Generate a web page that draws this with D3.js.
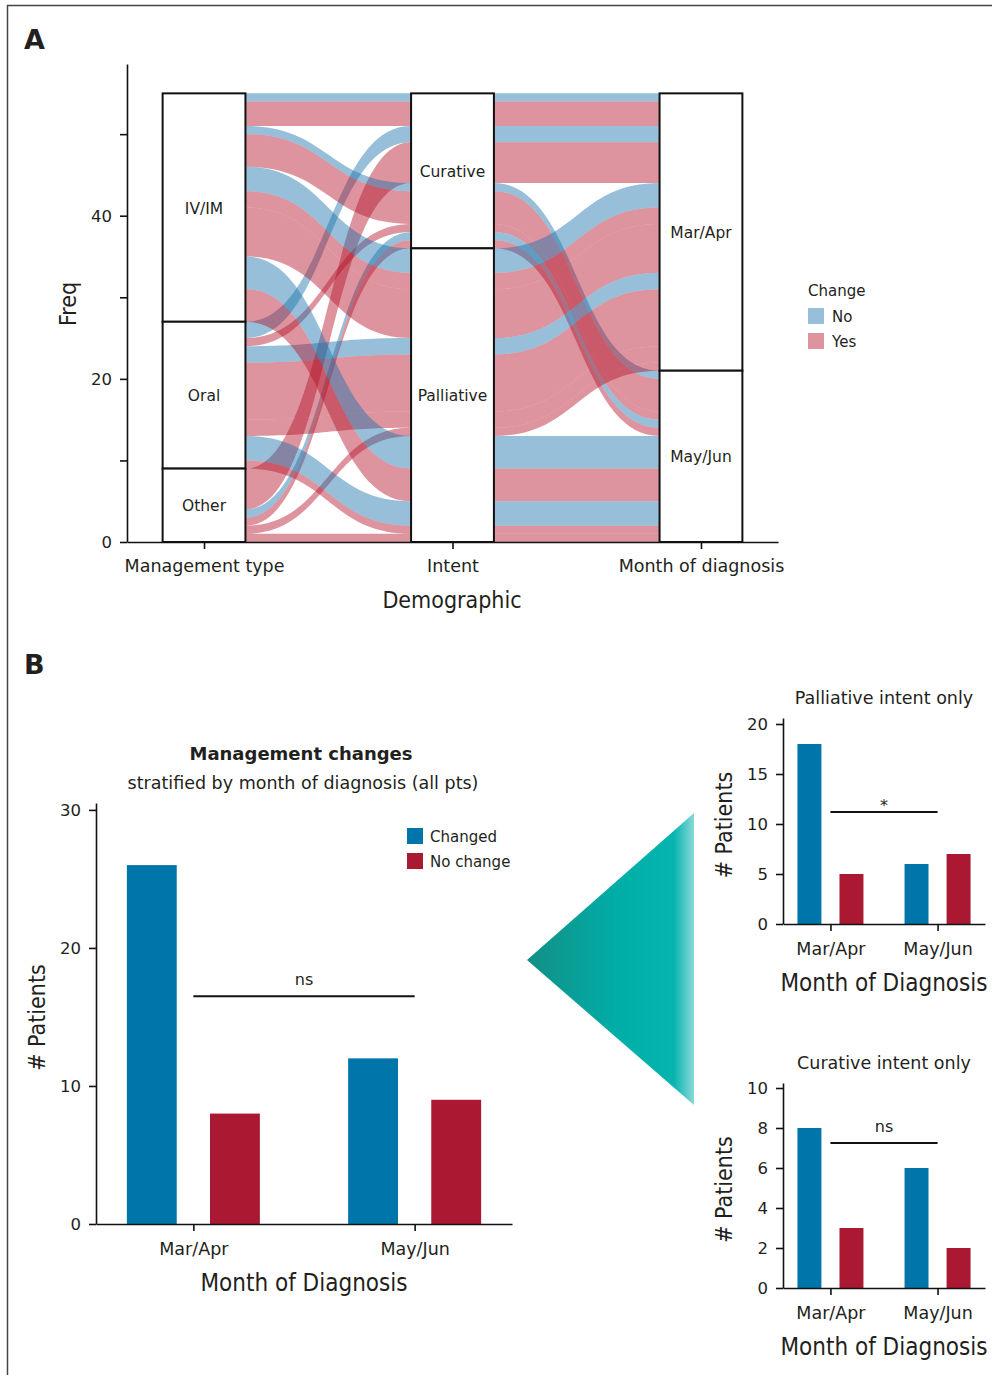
<!DOCTYPE html>
<html>
<head>
<meta charset="utf-8">
<script src="https://cdn.jsdelivr.net/npm/d3@7"></script>
<style>
  body { margin: 0; background: #fff; }
  svg text { font-family: "DejaVu Sans", sans-serif; fill: #231f20; }
  svg .cond { font-family: "DejaVu Sans Condensed", "DejaVu Sans", sans-serif; font-stretch: condensed; }
</style>
</head>
<body>
<svg id="fig" width="992" height="1375"></svg>
<script>
// ---------- panel A: alluvial data (one row per alluvium) ----------
const axisNames = ["Management type", "Intent", "Month of diagnosis"];
const mgmtLevels = ["IV/IM", "Oral", "Other"];
const intentLevels = ["Curative", "Palliative"];
const monthLevels = ["Mar/Apr", "May/Jun"];
const changeLevels = ["No", "Yes"];

const flowMgmt   = ["IV/IM","IV/IM","Oral","Other","IV/IM","IV/IM","Oral","Other","Other","IV/IM","IV/IM","IV/IM","Oral","Oral","Oral","Other","IV/IM","IV/IM","Oral","Oral","Other"];
const flowIntent = ["Curative","Curative","Curative","Curative","Curative","Curative","Curative","Curative","Curative","Palliative","Palliative","Palliative","Palliative","Palliative","Palliative","Palliative","Palliative","Palliative","Palliative","Palliative","Palliative"];
const flowMonth  = ["Mar/Apr","Mar/Apr","Mar/Apr","Mar/Apr","May/Jun","May/Jun","May/Jun","May/Jun","May/Jun","Mar/Apr","Mar/Apr","Mar/Apr","Mar/Apr","Mar/Apr","Mar/Apr","Mar/Apr","May/Jun","May/Jun","May/Jun","May/Jun","May/Jun"];
const flowChange = ["No","Yes","No","Yes","No","Yes","Yes","No","Yes","No","Yes","Yes","No","Yes","Yes","Yes","No","Yes","No","Yes","Yes"];
const flowFreq   = [1,3,2,5,1,4,1,1,1,3,2,6,2,7,2,1,4,4,3,1,1];

// ---------- panel B: bar chart data ----------
const monthCats = ["Mar/Apr", "May/Jun"];
const barGroups = ["Changed", "No change"];
const allChanged = [26, 12];
const allNoChange = [8, 9];
const palChanged = [18, 6];
const palNoChange = [5, 7];
const curChanged = [8, 6];
const curNoChange = [3, 2];
const sigLabels = ["ns", "*", "ns"];
const sigHeights = [16.5, 11.2, 7.25];

const blueA = "#1a72ab", redA = "#b41229";
const blueB = "#0075a9", redB = "#ab1831";
const ink = "#231f20";

const svg = d3.select("#fig");

// figure frame
svg.append("path").attr("d", "M7.5,1375V5.5H992").attr("fill", "none").attr("stroke", "#444").attr("stroke-width", 1.5);

svg.append("text").attr("x", 24).attr("y", 49).attr("font-size", 27).attr("font-weight", "bold").text("A");
svg.append("text").attr("x", 24).attr("y", 674).attr("font-size", 27).attr("font-weight", "bold").text("B");

// ================= PANEL A =================
const xA = d3.scalePoint().domain(axisNames).range([127, 778]).padding(0.31);
const yA = d3.scaleLinear().domain([0, 58.6]).range([542, 64]);
const half = xA.step() / 6;

// lode positions at each axis
const levelSets = [mgmtLevels, intentLevels, monthLevels];
const rows = flowFreq.map((n, i) => ({
  i, n, change: flowChange[i],
  keys: [mgmtLevels.indexOf(flowMgmt[i]), intentLevels.indexOf(flowIntent[i]), monthLevels.indexOf(flowMonth[i])],
  lode: []
}));
const total = d3.sum(flowFreq);
const sortOrder = [[0, 1, 2], [1, 2, 0], [2, 1, 0]];
sortOrder.forEach((ord, a) => {
  const sorted = rows.slice().sort((p, q) => {
    for (const k of ord) if (p.keys[k] !== q.keys[k]) return p.keys[k] - q.keys[k];
    if (p.change !== q.change) return changeLevels.indexOf(p.change) - changeLevels.indexOf(q.change);
    return p.i - q.i;
  });
  let top = total;
  sorted.forEach(r => { r.lode[a] = [top, top - r.n]; top -= r.n; });
});

function flowPath(r) {
  const xs = axisNames.map(a => xA(a));
  const p = d3.path();
  p.moveTo(xs[0] - half, yA(r.lode[0][0]));
  p.lineTo(xs[0] + half, yA(r.lode[0][0]));
  for (let a = 1; a < 3; a++) {
    const x0 = xs[a - 1] + half, x1 = xs[a] - half, xm = (x0 + x1) / 2;
    p.bezierCurveTo(xm, yA(r.lode[a - 1][0]), xm, yA(r.lode[a][0]), x1, yA(r.lode[a][0]));
    p.lineTo(xs[a] + half, yA(r.lode[a][0]));
  }
  p.lineTo(xs[2] + half, yA(r.lode[2][1]));
  p.lineTo(xs[2] - half, yA(r.lode[2][1]));
  for (let a = 1; a >= 0; a--) {
    const x0 = xs[a] + half, x1 = xs[a + 1] - half, xm = (x0 + x1) / 2;
    p.bezierCurveTo(xm, yA(r.lode[a + 1][1]), xm, yA(r.lode[a][1]), x0, yA(r.lode[a][1]));
    p.lineTo(xs[a] - half, yA(r.lode[a][1]));
  }
  p.closePath();
  return p.toString();
}

const colorA = d3.scaleOrdinal().domain(changeLevels).range([blueA, redA]);

svg.append("g").selectAll("path").data(rows).join("path")
  .attr("d", flowPath)
  .attr("fill", d => colorA(d.change))
  .attr("fill-opacity", 0.45);

// strata
const strata = [];
axisNames.forEach((ax, a) => {
  let top = total;
  levelSets[a].forEach((lv, k) => {
    const n = d3.sum(rows.filter(r => r.keys[a] === k), r => r.n);
    strata.push({ax, lv, top, bot: top - n});
    top -= n;
  });
});
const sg = svg.append("g");
sg.selectAll("rect").data(strata).join("rect")
  .attr("x", d => xA(d.ax) - half)
  .attr("y", d => yA(d.top))
  .attr("width", half * 2)
  .attr("height", d => yA(d.bot) - yA(d.top))
  .attr("fill", "#fff").attr("stroke", "#111").attr("stroke-width", 2);
sg.selectAll("text").data(strata).join("text")
  .attr("x", d => xA(d.ax))
  .attr("y", d => (yA(d.top) + yA(d.bot)) / 2 + 6)
  .attr("text-anchor", "middle").attr("font-size", 15.5)
  .text(d => d.lv);

// axes
const axA = svg.append("g").attr("transform", "translate(127,0)")
  .call(d3.axisLeft(yA).tickValues([0, 10, 20, 30, 40, 50]).tickSize(7).tickSizeOuter(0).tickPadding(8)
    .tickFormat(d => d % 20 === 0 ? d : ""));
const axAx = svg.append("g").attr("transform", "translate(0,542)")
  .call(d3.axisBottom(xA).tickSize(7).tickSizeOuter(0).tickPadding(11));
[axA, axAx].forEach(g => {
  g.selectAll("path, line").attr("stroke", "#111").attr("stroke-width", 1.6);
  g.selectAll("text").attr("font-size", 16.5).attr("fill", ink).attr("font-family", "DejaVu Sans");
});
axAx.selectAll("text").attr("font-size", 17.5);

svg.append("text").attr("class", "cond").attr("font-size", 23)
  .attr("transform", "translate(76,304) rotate(-90)").attr("text-anchor", "middle").text("Freq");
svg.append("text").attr("class", "cond").attr("font-size", 23)
  .attr("x", 452).attr("y", 608).attr("text-anchor", "middle").text("Demographic");

// legend A
const lgA = svg.append("g").attr("transform", "translate(808,0)");
lgA.append("text").attr("x", 0).attr("y", 296).attr("font-size", 15).text("Change");
changeLevels.forEach((c, i) => {
  lgA.append("rect").attr("x", 0).attr("y", 308 + i * 25).attr("width", 16).attr("height", 16)
    .attr("fill", colorA(c)).attr("fill-opacity", 0.45);
  lgA.append("text").attr("x", 24).attr("y", 322 + i * 25).attr("font-size", 15).text(c);
});

// ================= PANEL B =================
const colorB = d3.scaleOrdinal().domain(barGroups).range([blueB, redB]);

function barChart(cfg) {
  const g = svg.append("g");
  const x = d3.scalePoint().domain(monthCats).range([cfg.x0, cfg.x1]).padding(cfg.pad);
  const sub = d3.scaleBand().domain(barGroups).range([-cfg.half, cfg.half]).paddingInner(cfg.inner);
  const y = d3.scaleLinear().domain([0, cfg.ymax]).range([cfg.y0, cfg.y1]);
  const vals = [cfg.changed, cfg.noChange];

  monthCats.forEach((m, i) => {
    barGroups.forEach((b, j) => {
      g.append("rect")
        .attr("x", x(m) + sub(b)).attr("width", sub.bandwidth())
        .attr("y", y(vals[j][i])).attr("height", y(0) - y(vals[j][i]))
        .attr("fill", colorB(b));
    });
  });

  const ay = g.append("g").attr("transform", `translate(${cfg.x0},0)`)
    .call(d3.axisLeft(y).tickValues(cfg.ticks).tickSize(7).tickSizeOuter(0).tickPadding(8));
  const ax = g.append("g").attr("transform", `translate(0,${cfg.y0})`)
    .call(d3.axisBottom(x).tickSize(7).tickSizeOuter(0).tickPadding(12));
  [ay, ax].forEach(a => {
    a.selectAll("path, line").attr("stroke", "#111").attr("stroke-width", 1.6);
    a.selectAll("text").attr("font-size", 16.5).attr("fill", ink).attr("font-family", "DejaVu Sans");
  });
  ax.selectAll("text").attr("font-size", 17.5);

  // significance bar
  const isStar = cfg.sigLabel === "*";
  g.append("line").attr("x1", x(monthCats[0])).attr("x2", x(monthCats[1]))
    .attr("y1", y(cfg.sig)).attr("y2", y(cfg.sig)).attr("stroke", "#111").attr("stroke-width", 2);
  g.append("text").attr("x", (x(monthCats[0]) + x(monthCats[1])) / 2).attr("y", y(cfg.sig) - (isStar ? 1 : 11))
    .attr("text-anchor", "middle").attr("font-size", 16).text(cfg.sigLabel);

  g.append("text").attr("class", "cond").attr("font-size", 24)
    .attr("x", (cfg.x0 + cfg.x1) / 2).attr("y", cfg.y0 + 67).attr("text-anchor", "middle")
    .text("Month of Diagnosis");
  g.append("text").attr("class", "cond").attr("font-size", 23)
    .attr("transform", `translate(${cfg.ylabX},${(cfg.y0 + cfg.y1) / 2 + 4}) rotate(-90)`)
    .attr("text-anchor", "middle").text("# Patients");
  if (cfg.title) {
    g.append("text").attr("x", (cfg.x0 + cfg.x1) / 2).attr("y", cfg.titleY)
      .attr("text-anchor", "middle").attr("font-size", 17.5).text(cfg.title);
  }
  return g;
}

barChart({x0: 96, x1: 512, pad: 0.44, half: 66.5, inner: 0.4, y0: 1224, y1: 803, ymax: 30.5,
  ticks: [0, 10, 20, 30], changed: allChanged, noChange: allNoChange,
  sig: sigHeights[0], sigLabel: sigLabels[0], ylabX: 45});

barChart({x0: 783, x1: 985, pad: 0.443, half: 33, inner: 0.43, y0: 924, y1: 718, ymax: 20.6,
  ticks: [0, 5, 10, 15, 20], changed: palChanged, noChange: palNoChange,
  sig: sigHeights[1], sigLabel: sigLabels[1], ylabX: 732, title: "Palliative intent only", titleY: 704});

barChart({x0: 783, x1: 985, pad: 0.443, half: 33, inner: 0.43, y0: 1288, y1: 1083, ymax: 10.25,
  ticks: [0, 2, 4, 6, 8, 10], changed: curChanged, noChange: curNoChange,
  sig: sigHeights[2], sigLabel: sigLabels[2], ylabX: 732, title: "Curative intent only", titleY: 1069});

// main chart titles
svg.append("text").attr("x", 301).attr("y", 760).attr("text-anchor", "middle")
  .attr("font-size", 18).attr("font-weight", "bold").text("Management changes");
svg.append("text").attr("x", 303).attr("y", 789).attr("text-anchor", "middle")
  .attr("font-size", 17.5).text("stratified by month of diagnosis (all pts)");

// legend B
const lgB = svg.append("g").attr("transform", "translate(407,828)");
barGroups.forEach((b, i) => {
  lgB.append("rect").attr("x", 0).attr("y", i * 25).attr("width", 16).attr("height", 16).attr("fill", colorB(b));
  lgB.append("text").attr("x", 23).attr("y", i * 25 + 14).attr("font-size", 15).text(b);
});

// teal pointer triangle
const defs = svg.append("defs");
const grad = defs.append("linearGradient").attr("id", "teal").attr("x1", "0").attr("x2", "1").attr("y1", "0").attr("y2", "0");
[["0%", "#128f85"], ["55%", "#00aea8"], ["88%", "#06b5b0"], ["100%", "#8ad9d8"]].forEach(s =>
  grad.append("stop").attr("offset", s[0]).attr("stop-color", s[1]));
svg.append("path").attr("d", "M527,960L694,813L694,1105Z").attr("fill", "url(#teal)");
</script>
</body>
</html>
